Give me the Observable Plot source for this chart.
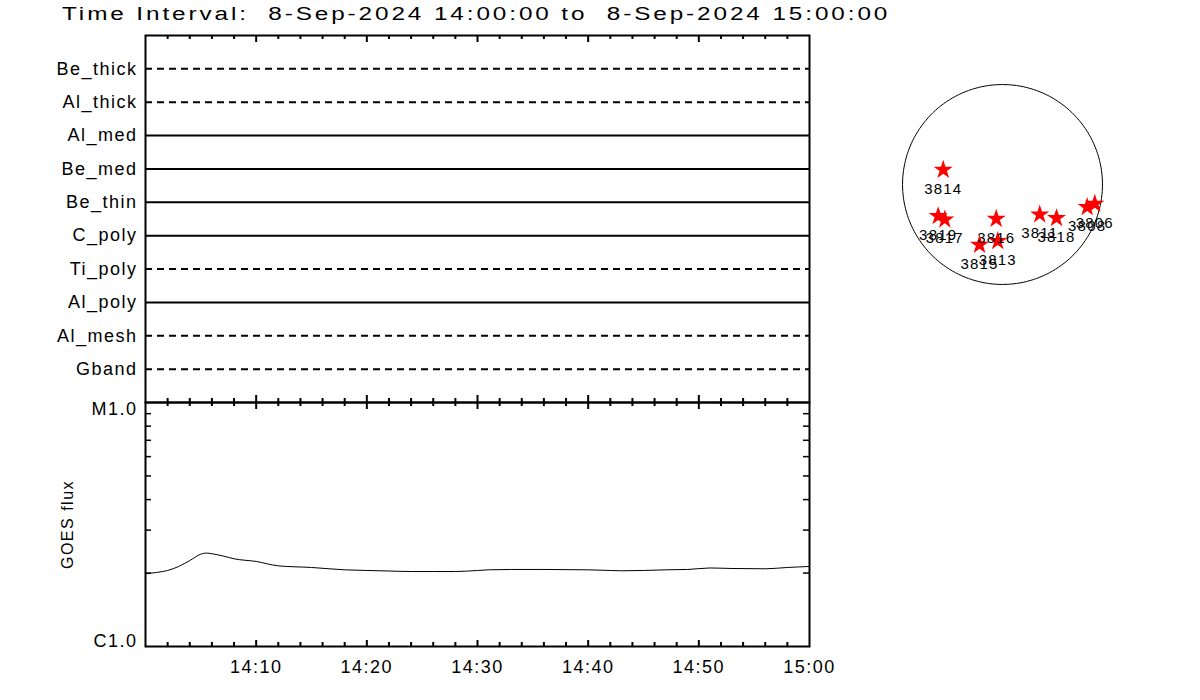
<!DOCTYPE html>
<html><head><meta charset="utf-8">
<script src="https://cdn.jsdelivr.net/npm/d3@7"></script>
<script src="https://cdn.jsdelivr.net/npm/@observablehq/plot@0.6"></script>
<style>
body{margin:0;background:#fff;}
#root{position:relative;width:1200px;height:700px;overflow:hidden;font-family:"Liberation Sans",Arial,sans-serif;color:#000;}
#title{position:absolute;left:62px;top:5px;font-size:18px;line-height:18px;white-space:pre;letter-spacing:2.15px;transform:scaleX(1.35);transform-origin:0 0;}
#root svg{position:absolute;}
</style></head><body>
<div id="root"><div id="title"></div></div>
<script>
// ---------- data ----------
const titleText = "Time Interval:  8-Sep-2024 14:00:00 to  8-Sep-2024 15:00:00";
const intervalStart = "2024-09-08T14:00:00Z";
const intervalEnd = "2024-09-08T15:00:00Z";

const filterNames = ["Be_thick","Al_thick","Al_med","Be_med","Be_thin","C_poly","Ti_poly","Al_poly","Al_mesh","Gband"];
const filterDashed = [true,true,false,false,false,false,true,false,true,true];

// GOES flux (W/m^2), minutes after 14:00
const goesMinutes = [0,1,2,3,4,5,5.5,6,7,8,10,12,15,18,20,22,24,26,28,30,31,33,36,40,42,43,45,47,49,51,53,56,58,60];
const goesFlux = [1.986e-6,2.011e-6,2.049e-6,2.128e-6,2.25e-6,2.39e-6,2.415e-6,2.40e-6,2.35e-6,2.288e-6,2.231e-6,2.141e-6,2.108e-6,2.062e-6,2.049e-6,2.039e-6,2.029e-6,2.029e-6,2.029e-6,2.049e-6,2.062e-6,2.069e-6,2.069e-6,2.062e-6,2.049e-6,2.043e-6,2.049e-6,2.062e-6,2.069e-6,2.098e-6,2.088e-6,2.082e-6,2.108e-6,2.128e-6];

const xTickLabels = ["14:10","14:20","14:30","14:40","14:50","15:00"];
const yTickValues = [1e-6, 1e-5];
const yTickLabels = ["C1.0","M1.0"];
const yLabel = "GOES flux";

// Active regions on the solar disk (arcsec, solar X / solar Y)
const solarRadius = 953;
const arNumbers = ["3814","3819","3817","3816","3815","3813","3811","3818","3808","3806"];
const arX = [-565,-613,-550,-60,-219,-45,355,515,807,880];
const arY = [140,-302,-334,-327,-575,-540,-286,-321,-216,-184];

// ---------- build ----------
const root = document.getElementById("root");
document.getElementById("title").textContent = titleText;

const t0 = new Date(intervalStart), t1 = new Date(intervalEnd);
const minorTimes = d3.utcMinute.every(2).range(t0, t1).filter(d => d.getUTCMinutes() % 10 !== 0);
const majorTimes = d3.utcMinute.every(10).range(t0, t1).filter(d => +d !== +t0);
const xTicks = xTickLabels.map(s => new Date(`2024-09-08T${s}:00Z`));

const W = 830, ML = 145, MR = 21;
const frameW = W - ML - MR;
const noBg = "background:transparent;overflow:visible;";
const txtStyle = "font-family:'Liberation Sans',Arial,sans-serif;letter-spacing:1.5px;";

function ticksX(times, edge, len, frameH) {
  const o = {x: d => d, stroke: "black", strokeWidth: 2};
  if (edge === "top") o.insetBottom = frameH - len; else o.insetTop = frameH - len;
  return Plot.tickX(times, o);
}

// top panel: filters
const H1 = 374, MT1 = 5, MB1 = 2, frameH1 = H1 - MT1 - MB1;
const filterRows = filterNames.map((name, i) => ({name, dashed: filterDashed[i]}));
const p1 = Plot.plot({
  width: W, height: H1, marginLeft: ML, marginRight: MR, marginTop: MT1, marginBottom: MB1,
  style: noBg + txtStyle,
  x: {type: "utc", domain: [t0, t1], axis: null},
  y: {type: "point", domain: filterNames, padding: 1, round: false, axis: null},
  marks: [
    Plot.ruleY(filterRows.filter(d => !d.dashed), {y: "name", x1: t0, x2: t1, stroke: "black", strokeWidth: 2}),
    Plot.ruleY(filterRows.filter(d => d.dashed), {y: "name", x1: t0, x2: t1, stroke: "black", strokeWidth: 2, strokeDasharray: "7,5"}),
    Plot.axisY({tickSize: 0, tickPadding: 8, fontSize: 18, label: null}),
    ticksX(minorTimes, "top", 4, frameH1),
    ticksX(majorTimes, "top", 7, frameH1),
    ticksX(minorTimes, "bottom", 4, frameH1),
    ticksX(majorTimes, "bottom", 7, frameH1),
    Plot.frame({stroke: "black", strokeWidth: 2})
  ]
});
p1.style.left = "0px"; p1.style.top = "30px";
root.appendChild(p1);

// bottom panel: GOES
const H2 = 289, MT2 = 5, MB2 = 40, frameH2 = H2 - MT2 - MB2;
const goesRows = goesMinutes.map((m, i) => ({t: new Date(+t0 + m * 60000), f: goesFlux[i]}));
const yMinor = d3.range(2, 10).map(k => k * 1e-6);
const p2 = Plot.plot({
  width: W, height: H2, marginLeft: ML, marginRight: MR, marginTop: MT2, marginBottom: MB2,
  style: noBg + txtStyle,
  x: {type: "utc", domain: [t0, t1], axis: null},
  y: {type: "log", domain: [yTickValues[0], yTickValues[1]], axis: null},
  marks: [
    Plot.line(goesRows, {x: "t", y: "f", stroke: "black", strokeWidth: 1, curve: "monotone-x"}),
    ticksX(minorTimes, "top", 4, frameH2),
    ticksX(majorTimes, "top", 7, frameH2),
    ticksX(minorTimes, "bottom", 4, frameH2),
    ticksX(majorTimes, "bottom", 6, frameH2),
    Plot.tickY(yMinor, {y: d => d, stroke: "black", strokeWidth: 1.5, insetRight: frameW - 6}),
    Plot.tickY(yMinor, {y: d => d, stroke: "black", strokeWidth: 1.5, insetLeft: frameW - 6}),
    Plot.axisX({anchor: "bottom", ticks: xTicks, tickSize: 0, tickPadding: 14, fontSize: 18, label: null,
      tickFormat: d => xTickLabels[xTicks.findIndex(t => +t === +d)]}),
    Plot.text([yTickLabels[0]], {y: yTickValues[0], text: d => d, frameAnchor: "left", dx: -8, textAnchor: "end", lineAnchor: "bottom", fontSize: 18}),
    Plot.text([yTickLabels[1]], {y: yTickValues[1], text: d => d, frameAnchor: "left", dx: -8, textAnchor: "end", lineAnchor: "top", fontSize: 18}),
    Plot.text([yLabel], {text: d => d, frameAnchor: "left", dx: -78, rotate: -90, textAnchor: "middle", fontSize: 16, style: "letter-spacing:2.2px"}),
    Plot.frame({stroke: "black", strokeWidth: 2})
  ]
});
p2.style.left = "0px"; p2.style.top = "397px";
root.appendChild(p2);

// solar disk
const limb = d3.range(0, 361, 2).map(a => ({x: solarRadius * Math.cos(a * Math.PI / 180), y: solarRadius * Math.sin(a * Math.PI / 180)}));
const arRows = arNumbers.map((n, i) => ({n, x: arX[i], y: arY[i]}));
const p3 = Plot.plot({
  width: 240, height: 230, margin: 0,
  style: noBg + "font-family:'Liberation Sans',Arial,sans-serif;letter-spacing:1.2px;",
  x: {domain: [-1144, 1144], axis: null},
  y: {domain: [-1096.5, 1096.5], axis: null},
  marks: [
    Plot.line(limb, {x: "x", y: "y", stroke: "black", strokeWidth: 1}),
    Plot.dot(arRows, {x: "x", y: "y", symbol: "star", r: 6, fill: "red", stroke: "none"}),
    Plot.text(arRows, {x: "x", y: "y", text: "n", dy: 19, fontSize: 15, fill: "black"})
  ]
});
p3.style.left = "882px"; p3.style.top = "69px";
root.appendChild(p3);
</script>
</body></html>
